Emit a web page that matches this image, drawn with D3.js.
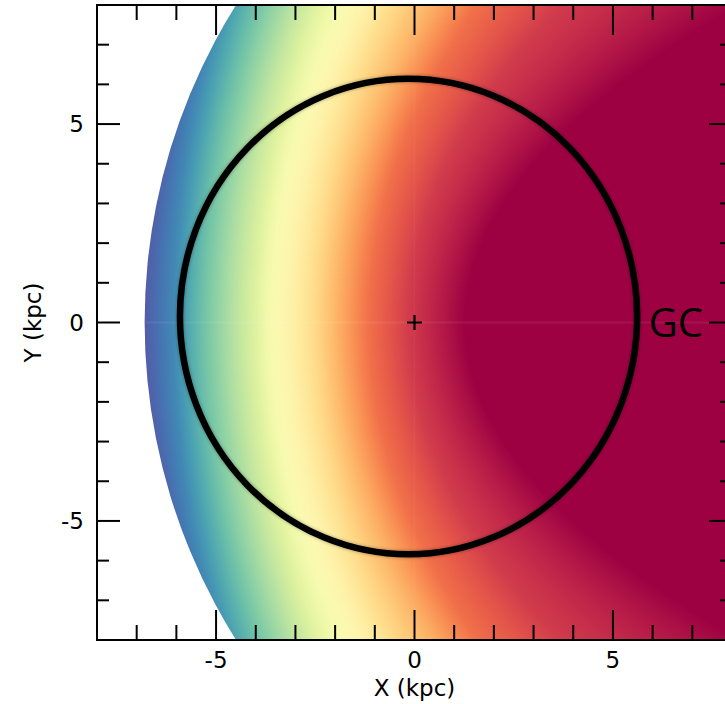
<!DOCTYPE html>
<html>
<head>
<meta charset="utf-8">
<script src="https://cdn.jsdelivr.net/npm/d3@7"></script>
<style>
  body { margin: 0; background: #fff; }
  svg { display: block; overflow: hidden; }
</style>
</head>
<body>
<div id="chart"></div>
<script>
// colour levels of the field (Spectral colormap position)
var levels = [1.0, 0.9, 0.8, 0.7, 0.6, 0.5, 0.4, 0.3, 0.2, 0.1, 0.0];
// x (kpc) where each level sits along Y = 0
var levelXMid = [-7.0, -6.09, -5.4, -4.7, -3.97, -3.47, -2.56, -1.86, -1.15, -0.15, 1.27];
// x (kpc) where each level sits along |Y| = 8
var levelXEdge = [-5.5, -4.9, -4.06, -3.26, -2.45, -1.62, -0.61, 0.54, 1.57, 3.66, 8.2];

// disk of the map, centred on the galactic centre
var gcX = 8.25, gcY = 0, diskR = 15.05;
// black ring
var ringCx = -0.15, ringCy = 0.15, ringRx = 5.76, ringRy = 5.99;

var majorTicks = [-5, 0, 5];
var minorTicks = [-8, -7, -6, -5, -4, -3, -2, -1, 0, 1, 2, 3, 4, 5, 6, 7, 8];

var svgWidth = 725, svgHeight = 704;
var margin = {top: 5, left: 97};
var width = 635, height = 635;

var svg = d3.select("#chart").append("svg")
    .attr("width", svgWidth)
    .attr("height", svgHeight);

var x = d3.scaleLinear().domain([-8, 8]).range([0, width]);
var y = d3.scaleLinear().domain([-8, 8]).range([height, 0]);

var g = svg.append("g").attr("transform", `translate(${margin.left}, ${margin.top})`);

var defs = svg.append("defs");
defs.append("clipPath").attr("id", "disk")
    .append("circle")
    .attr("cx", x(gcX)).attr("cy", y(gcY))
    .attr("r", x(diskR) - x(0));
defs.append("clipPath").attr("id", "plot")
    .append("rect").attr("width", width).attr("height", height);
defs.append("filter").attr("id", "soft")
    .attr("x", "-10%").attr("y", "-10%").attr("width", "120%").attr("height", "120%")
    .append("feGaussianBlur").attr("stdDeviation", 1.8);

// paint the field on a canvas, then use it as an image
var canvas = document.createElement("canvas");
canvas.width = width;
canvas.height = height;
var ctx = canvas.getContext("2d");
var img = ctx.createImageData(width, height);
for (var j = 0; j < height; j++) {
    var yv = y.invert(j + 0.5);
    var f = (yv / 8) * (yv / 8);
    var xs = levelXMid.map(function(m, i) { return m + (levelXEdge[i] - m) * f; });
    var tScale = d3.scaleLinear().domain(xs).range(levels).clamp(true);
    for (var i = 0; i < width; i++) {
        var c = d3.rgb(d3.interpolateSpectral(tScale(x.invert(i + 0.5))));
        var k = (j * width + i) * 4;
        img.data[k] = c.r;
        img.data[k + 1] = c.g;
        img.data[k + 2] = c.b;
        img.data[k + 3] = 255;
    }
}
ctx.putImageData(img, 0, 0);

var field = g.append("g").attr("clip-path", "url(#plot)")
  .append("g").attr("clip-path", "url(#disk)");
field.append("image")
    .attr("width", width).attr("height", height)
    .attr("preserveAspectRatio", "none")
    .attr("href", canvas.toDataURL());
// faint seams along the axes of the map
field.append("line")
    .attr("x1", 0).attr("x2", width).attr("y1", y(0)).attr("y2", y(0))
    .attr("stroke", "#fff").attr("stroke-opacity", 0.07).attr("stroke-width", 2);
field.append("line")
    .attr("x1", x(0)).attr("x2", x(0)).attr("y1", 0).attr("y2", height)
    .attr("stroke", "#fff").attr("stroke-opacity", 0.04).attr("stroke-width", 1.5);

// ring with a soft shadow
g.append("ellipse")
    .attr("cx", x(ringCx)).attr("cy", y(ringCy))
    .attr("rx", x(ringRx) - x(0)).attr("ry", y(0) - y(ringRy))
    .attr("fill", "none").attr("stroke", "#000").attr("stroke-opacity", 0.25)
    .attr("stroke-width", 8).attr("filter", "url(#soft)");
g.append("ellipse")
    .attr("cx", x(ringCx)).attr("cy", y(ringCy))
    .attr("rx", x(ringRx) - x(0)).attr("ry", y(0) - y(ringRy))
    .attr("fill", "none").attr("stroke", "#000").attr("stroke-width", 6.5);

// sun marker
var plus = 7.5;
g.append("path")
    .attr("d", `M${x(0) - plus},${y(0)}H${x(0) + plus}M${x(0)},${y(0) - plus}V${y(0) + plus}`)
    .attr("stroke", "#000").attr("stroke-width", 2.2);

g.append("text")
    .attr("x", x(5.9)).attr("y", y(0))
    .attr("dy", "0.36em")
    .style("font", "40px 'Open Sans'")
    .text("GC");

// frame
g.append("rect")
    .attr("width", width).attr("height", height)
    .attr("fill", "none").attr("stroke", "#000").attr("stroke-width", 2);

// inward ticks
function tickLen(v, minor, major) { return majorTicks.indexOf(v) >= 0 ? major : minor; }
var ticks = g.append("g").attr("stroke", "#000").attr("stroke-width", 2);
minorTicks.forEach(function(v) {
    var lx = tickLen(v, 15, 30), ly = tickLen(v, 12, 23);
    ticks.append("line").attr("x1", x(v)).attr("x2", x(v)).attr("y1", height).attr("y2", height - lx);
    ticks.append("line").attr("x1", x(v)).attr("x2", x(v)).attr("y1", 0).attr("y2", lx);
    ticks.append("line").attr("y1", y(v)).attr("y2", y(v)).attr("x1", 0).attr("x2", ly);
    ticks.append("line").attr("y1", y(v)).attr("y2", y(v)).attr("x1", width).attr("x2", width - ly);
});

var labelFont = "23px 'DejaVu Sans', sans-serif";
g.selectAll(".xl").data(majorTicks).enter().append("text")
    .attr("x", function(d) { return x(d); }).attr("y", height + 28)
    .attr("text-anchor", "middle").style("font", labelFont)
    .text(function(d) { return d; });
g.selectAll(".yl").data(majorTicks).enter().append("text")
    .attr("x", -13).attr("y", function(d) { return y(d); })
    .attr("dy", "0.36em")
    .attr("text-anchor", "end").style("font", labelFont)
    .text(function(d) { return d; });

g.append("text")
    .attr("x", width / 2).attr("y", height + 56)
    .attr("text-anchor", "middle").style("font", labelFont)
    .text("X (kpc)");
g.append("text")
    .attr("transform", `translate(${-56}, ${height / 2}) rotate(-90)`)
    .attr("text-anchor", "middle").style("font", labelFont)
    .text("Y (kpc)");
</script>
</body>
</html>
